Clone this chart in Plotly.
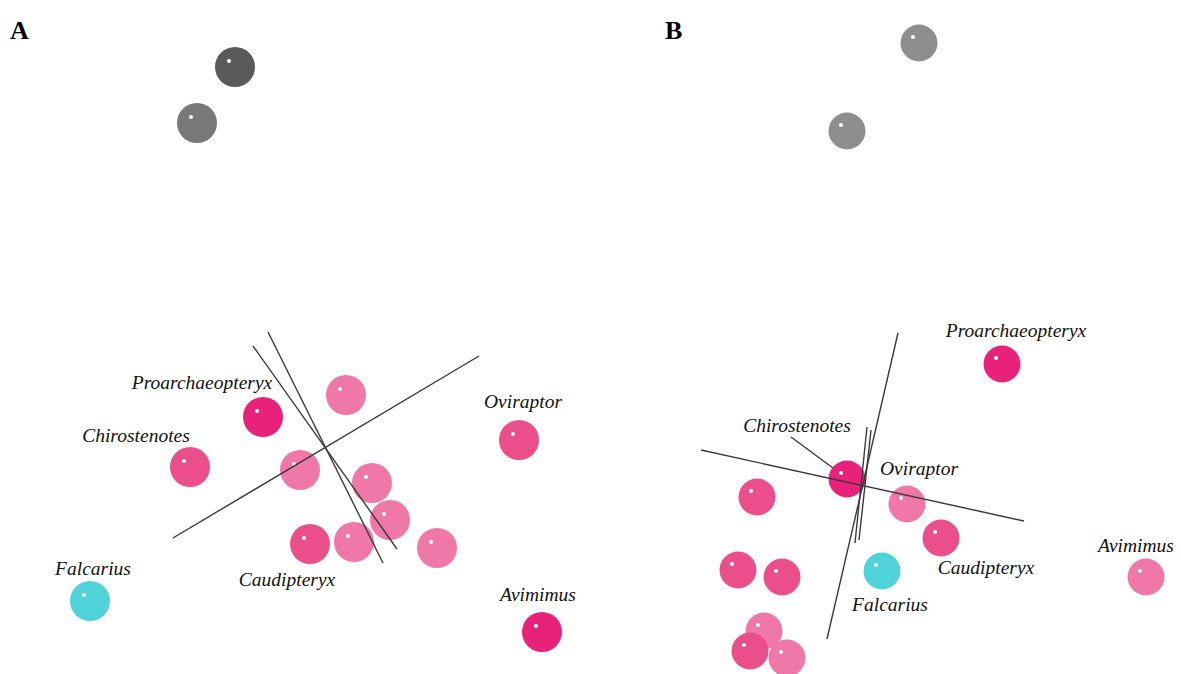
import plotly.graph_objects as go
from plotly.subplots import make_subplots

W, H = 1181, 674
OFF = 8  # default page body margin
SPLIT = 600

DEEP = "#e8217a"
MED = "#ea4f8c"
LIGHT = "#ef78a8"
CYAN = "#4fd3d8"

# ---------- Panel A ----------
a_x = [235, 197, 263, 346, 190, 300, 372, 390, 310, 354, 437, 519, 90, 542]
a_y = [67, 123, 417, 395, 467, 470, 483, 520, 544, 542, 548, 440, 601, 632]
a_col = ["#5a5a5a", "#787878", DEEP, LIGHT, MED, LIGHT, LIGHT, LIGHT, MED, LIGHT, LIGHT, MED, CYAN, DEEP]

a_lab = ["Proarchaeopteryx", "Chirostenotes", "Oviraptor", "Caudipteryx", "Falcarius", "Avimimus"]
a_lab_x = [202, 136, 523, 287, 93, 538]
a_lab_y = [384, 437, 403, 581, 570, 596]

a_lines_x = [[173, 479], [268, 383], [253, 397]]
a_lines_y = [[538, 356], [332, 563], [346, 549]]

# ---------- Panel B ----------
b_x = [919, 847, 1002, 847, 907, 941, 882, 1146, 757, 738, 782, 764, 750, 787]
b_y = [43, 131, 364, 479, 504, 538, 571, 577, 497, 570, 577, 631, 651, 658]
b_col = ["#8e8e8e", "#8e8e8e", DEEP, DEEP, LIGHT, MED, CYAN, LIGHT, MED, MED, MED, LIGHT, MED, LIGHT]

b_lab = ["Proarchaeopteryx", "Chirostenotes", "Oviraptor", "Caudipteryx", "Falcarius", "Avimimus"]
b_lab_x = [1016, 797, 919, 986, 890, 1136]
b_lab_y = [332, 427, 470, 569, 606, 547]

b_lines_x = [[701, 1024], [898, 827], [867, 855], [871, 859], [791, 833]]
b_lines_y = [[450, 521], [333, 639], [427, 543], [430, 540], [437, 468]]

FW, FH = W - OFF, H - OFF
fig = make_subplots(rows=1, cols=2, horizontal_spacing=0,
                    column_widths=[(SPLIT - OFF) / FW, 1 - (SPLIT - OFF) / FW])

LINE = dict(color="#3a3a3a", width=1.4)


def panel(col, xs, ys, cols, size, labs, lx, ly, lines_x, lines_y, over):
    for i, (lxs, lys) in enumerate(zip(lines_x, lines_y)):
        if i not in over:
            fig.add_trace(go.Scatter(x=lxs, y=lys, mode="lines", line=LINE,
                                     hoverinfo="skip", showlegend=False), row=1, col=col)
    fig.add_trace(go.Scatter(x=xs, y=ys, mode="markers", cliponaxis=False,
                             marker=dict(size=size, color=cols, line=dict(width=0)),
                             showlegend=False), row=1, col=col)
    fig.add_trace(go.Scatter(x=[v - 6 for v in xs], y=[v - 6 for v in ys], mode="markers",
                             marker=dict(size=4, color="white", line=dict(width=0)),
                             hoverinfo="skip", showlegend=False), row=1, col=col)
    for i, (lxs, lys) in enumerate(zip(lines_x, lines_y)):
        if i in over:
            fig.add_trace(go.Scatter(x=lxs, y=lys, mode="lines", line=LINE,
                                     hoverinfo="skip", showlegend=False), row=1, col=col)
    fig.add_trace(go.Scatter(x=lx, y=ly, mode="text", text=[f"<i>{t}</i>" for t in labs],
                             textposition="middle center", cliponaxis=False,
                             textfont=dict(family="Liberation Serif", size=19.5, color="#111111"),
                             hoverinfo="skip", showlegend=False), row=1, col=col)


panel(1, a_x, a_y, a_col, 40, a_lab, a_lab_x, a_lab_y, a_lines_x, a_lines_y, {0, 1, 2})
panel(2, b_x, b_y, b_col, 37, b_lab, b_lab_x, b_lab_y, b_lines_x, b_lines_y, {0, 1, 2, 3})

fig.update_xaxes(range=[OFF, SPLIT], row=1, col=1)
fig.update_xaxes(range=[SPLIT, W], row=1, col=2)
fig.update_xaxes(visible=False, showgrid=False, zeroline=False)
fig.update_yaxes(range=[OFF + FH, OFF], visible=False, showgrid=False, zeroline=False)

fig.add_annotation(x=19, y=30, xref="x", yref="y", text="<b>A</b>", showarrow=False,
                   font=dict(family="Liberation Serif", size=26, color="#000000"))
fig.add_annotation(x=673, y=30, xref="x2", yref="y2", text="<b>B</b>", showarrow=False,
                   font=dict(family="Liberation Serif", size=26, color="#000000"))

fig.update_layout(width=FW, height=FH, margin=dict(l=0, r=0, t=0, b=0),
                  paper_bgcolor="white", plot_bgcolor="white")

fig.write_html("out.html")
